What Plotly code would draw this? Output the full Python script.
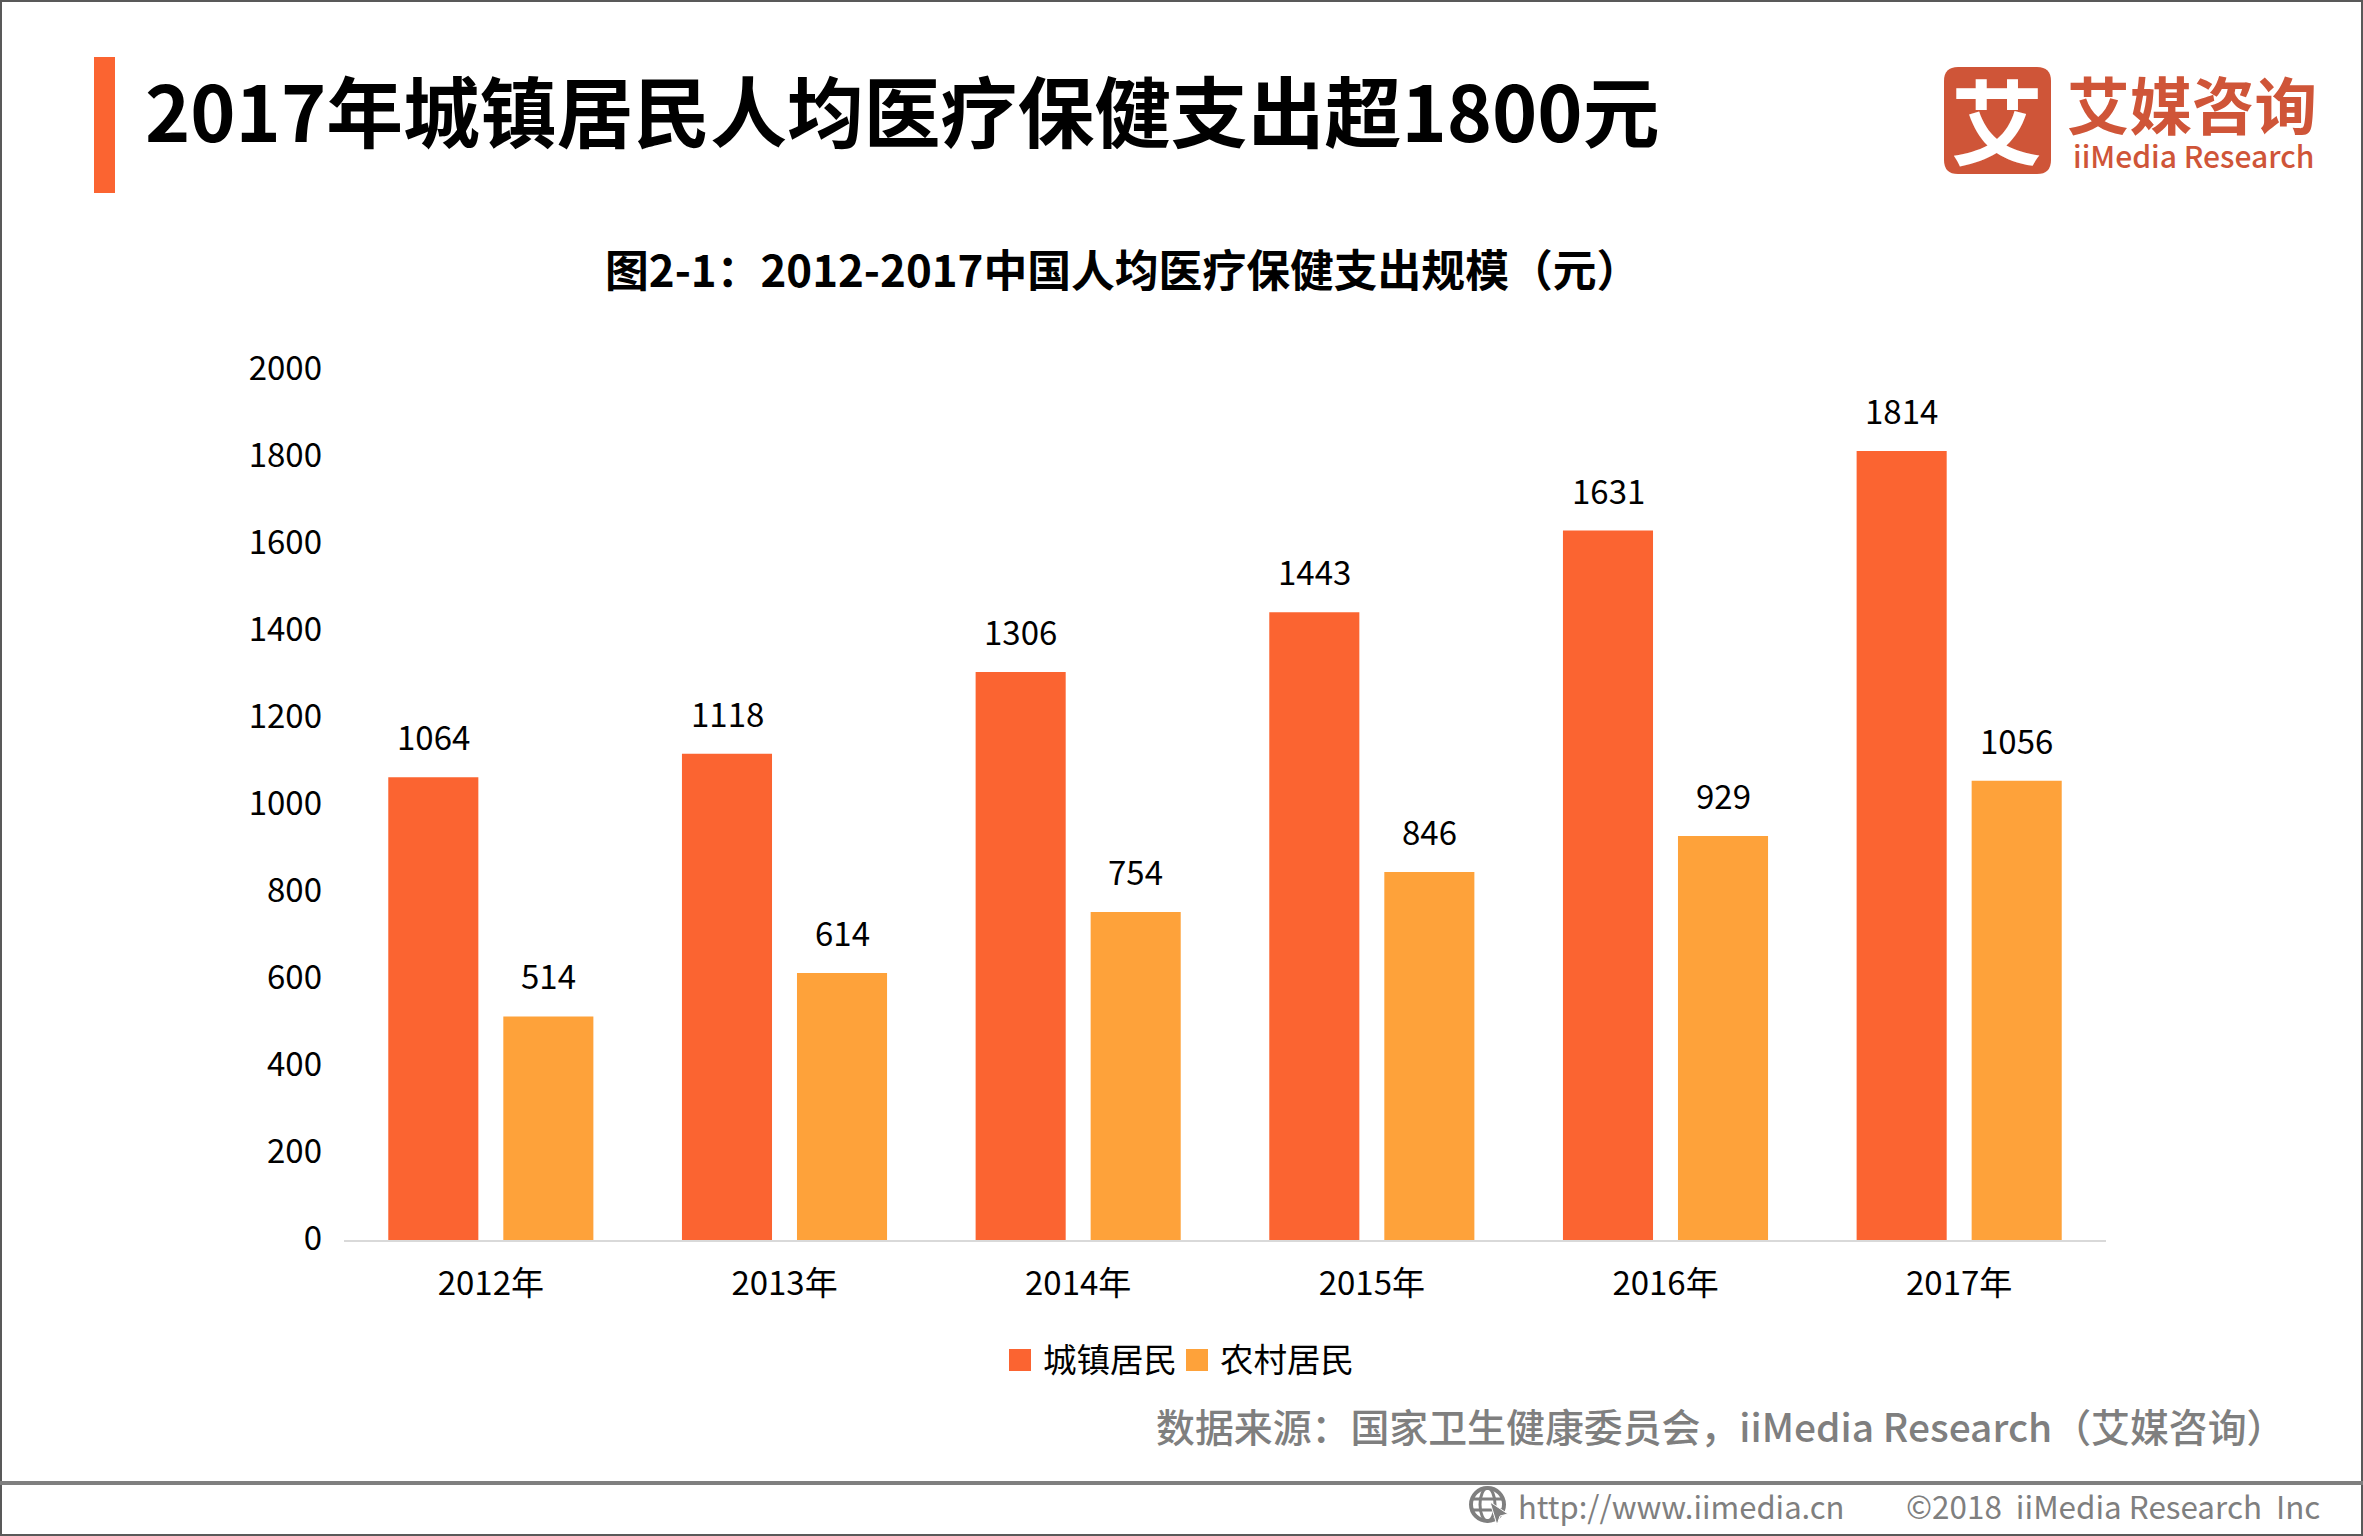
import plotly.graph_objects as go

W, H = 2363, 1536
ML, MR, MT, MB = 344, 257, 370, 296

categories = ["2012年", "2013年", "2014年", "2015年", "2016年", "2017年"]
urban = [1064, 1118, 1306, 1443, 1631, 1814]
rural = [514, 614, 754, 846, 929, 1056]
y_ticks = [0, 200, 400, 600, 800, 1000, 1200, 1400, 1600, 1800, 2000]
series_names = ["城镇居民", "农村居民"]

ORANGE = "#FB6431"
AMBER = "#FEA23A"
LOGO = "#CF5538"
GRAY = "#7F7F7F"
FONT = "Noto Sans CJK SC"


def px(x):
    return (x - ML) / (W - ML - MR)


def py(y):
    return 1 - (y - MT) / (H - MT - MB)


def rect(x0, y0, x1, y1, color):
    return dict(type="rect", xref="paper", yref="paper", x0=px(x0), x1=px(x1),
                y0=py(y0), y1=py(y1), fillcolor=color, line_width=0, layer="below")


def rounded(x0, y0, x1, y1, r, color):
    def p(x, y):
        return f"{px(x)},{py(y)}"
    d = (f"M{p(x0 + r, y0)} L{p(x1 - r, y0)} Q{p(x1, y0)} {p(x1, y0 + r)} "
         f"L{p(x1, y1 - r)} Q{p(x1, y1)} {p(x1 - r, y1)} "
         f"L{p(x0 + r, y1)} Q{p(x0, y1)} {p(x0, y1 - r)} "
         f"L{p(x0, y0 + r)} Q{p(x0, y0)} {p(x0 + r, y0)} Z")
    return dict(type="path", xref="paper", yref="paper", path=d, fillcolor=color,
                line_width=0, layer="below")


def text(x, y, s, size, color="#000000", bold=False, anchor="left", weight=None):
    label = f"<b>{s}</b>" if bold else s
    font = dict(family=FONT, size=size, color=color)
    if weight:
        font["weight"] = weight
    return dict(xref="paper", yref="paper", x=px(x), y=py(y), text=label, showarrow=False,
                xanchor=anchor, yanchor="middle", align=anchor, font=font)


fig = go.Figure()
fig.add_bar(name=series_names[0], x=categories, y=urban, marker_color=ORANGE, marker_line_width=0)
fig.add_bar(name=series_names[1], x=categories, y=rural, marker_color=AMBER, marker_line_width=0)

annotations = [
    text(143, 108, "2017年城镇居民人均医疗保健支出超1800元", 76.8, bold=True),
    text(1122, 268, "图2-1：2012-2017中国人均医疗保健支出规模（元）", 43.8, bold=True, anchor="center"),
    text(1154, 1425, "数据来源：国家卫生健康委员会，iiMedia Research（艾媒咨询）", 38.9, color=GRAY, weight=500),
    text(1516, 1505, "http://www.iimedia.cn", 31, color=GRAY),
    text(1904, 1505, "©2018  iiMedia Research  Inc", 31.4, color=GRAY),
    text(1997, 118, "艾", 92, color="#FFFFFF", bold=True, anchor="center"),
    text(2192, 103, "艾媒咨询", 62.5, color=LOGO, bold=True, anchor="center"),
    text(2193, 155, "iiMedia Research", 30, color=LOGO, weight=500, anchor="center"),
    text(1041, 1357, series_names[0], 33.5),
    text(1218, 1357, series_names[1], 33.5),
]
for vals, shift in ((urban, -57.5), (rural, 57.5)):
    for c, v in zip(categories, vals):
        annotations.append(dict(x=c, y=v, xref="x", yref="y", text=str(v), showarrow=False,
                                xshift=shift, yshift=41, yanchor="middle",
                                font=dict(family=FONT, size=33, color="#000000")))

cursor = (f"M{px(1490)},{py(1502)} L{px(1508)},{py(1514)} L{px(1500)},{py(1516)} "
          f"L{px(1497)},{py(1525)} Z")
shapes = [
    rect(94, 57, 115, 193, ORANGE),
    rect(0, 0, W, 2, "#595959"),
    rect(0, 0, 2, H, "#595959"),
    rect(W - 2, 0, W, H, "#595959"),
    rect(0, H - 2, W, H, "#595959"),
    rect(0, 1481, W, 1485, GRAY),
    rounded(1944, 67, 2051, 174, 14, LOGO),
    rect(1009, 1349, 1031, 1371, ORANGE),
    rect(1186, 1349, 1208, 1371, AMBER),
    dict(type="circle", xref="paper", yref="paper", x0=px(1471), x1=px(1504), y0=py(1488), y1=py(1521),
         line=dict(color=GRAY, width=4)),
    dict(type="circle", xref="paper", yref="paper", x0=px(1480), x1=px(1495), y0=py(1488), y1=py(1521),
         line=dict(color=GRAY, width=3)),
    dict(type="line", xref="paper", yref="paper", x0=px(1471), x1=px(1504), y0=py(1499), y1=py(1499),
         line=dict(color=GRAY, width=3)),
    dict(type="line", xref="paper", yref="paper", x0=px(1471), x1=px(1504), y0=py(1510), y1=py(1510),
         line=dict(color=GRAY, width=3)),
    dict(type="path", xref="paper", yref="paper", path=cursor, fillcolor=GRAY,
         line=dict(color="#FFFFFF", width=1)),
]

fig.update_layout(
    width=W, height=H, autosize=False,
    margin=dict(l=ML, r=MR, t=MT, b=MB, pad=0),
    paper_bgcolor="#FFFFFF", plot_bgcolor="#FFFFFF",
    font=dict(family=FONT, size=33, color="#000000"),
    barmode="group", bargap=0.2166, bargroupgap=0.217,
    showlegend=False,
    annotations=annotations, shapes=shapes,
)
fig.update_xaxes(type="category", showgrid=False, ticks="", showline=True, linecolor="#D9D9D9",
                 linewidth=2, tickfont=dict(family=FONT, size=33), ticklabelstandoff=13)
fig.update_yaxes(range=[0, 2000], tickvals=y_ticks, showgrid=False, zeroline=False, showline=False,
                 ticks="", tickfont=dict(family=FONT, size=33), ticklabelstandoff=21, ticklabelshift=-2)

fig.write_html("out.html", config={"displayModeBar": False},
               post_script="document.body.style.margin='0';document.body.style.overflow='hidden';")
